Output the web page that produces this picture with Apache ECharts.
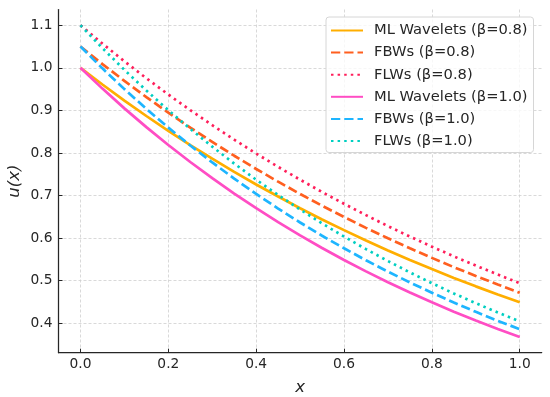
<!DOCTYPE html>
<html><head><meta charset="utf-8">
<script src="https://cdn.jsdelivr.net/npm/echarts@6/dist/echarts.min.js"></script>
<style>html,body{margin:0;padding:0;background:#fff}#c{width:550px;height:397px}</style>
</head><body><div id="c"></div>
<script>
const xs = [0,0.05,0.1,0.15,0.2,0.25,0.3,0.35,0.4,0.45,0.5,0.55,0.6,0.65,0.7,0.75,0.8,0.85,0.9,0.95,1.0];
const mlB08 = [1.0,0.9608,0.9231,0.8869,0.8521,0.8187,0.7866,0.7558,0.7261,0.6977,0.6703,0.6440,0.6188,0.5945,0.5712,0.5488,0.5273,0.5066,0.4868,0.4677,0.4493];
const fbB08 = [1.05,1.0088,0.9693,0.9312,0.8947,0.8596,0.8259,0.7936,0.7624,0.7326,0.7038,0.6762,0.6497,0.6242,0.5998,0.5762,0.5537,0.5319,0.5111,0.4911,0.4718];
const flB08 = [1.1,1.0569,1.0154,0.9756,0.9373,0.9006,0.8653,0.8314,0.7987,0.7675,0.7373,0.7084,0.6807,0.6540,0.6283,0.6037,0.5800,0.5573,0.5355,0.5145,0.4942];
const mlB10 = [1.0,0.9512,0.9048,0.8607,0.8187,0.7788,0.7408,0.7047,0.6703,0.6376,0.6065,0.5769,0.5488,0.5220,0.4966,0.4724,0.4493,0.4274,0.4066,0.3867,0.3679];
const fbB10 = [1.05,0.9988,0.9500,0.9037,0.8596,0.8177,0.7778,0.7399,0.7038,0.6695,0.6368,0.6057,0.5762,0.5481,0.5214,0.4960,0.4718,0.4488,0.4269,0.4060,0.3863];
const flB10 = [1.1,1.0463,0.9953,0.9468,0.9006,0.8567,0.8149,0.7752,0.7373,0.7014,0.6672,0.6346,0.6037,0.5742,0.5463,0.5196,0.4942,0.4701,0.4473,0.4254,0.4047];
const names = ['ML Wavelets (β=0.8)','FBWs (β=0.8)','FLWs (β=0.8)','ML Wavelets (β=1.0)','FBWs (β=1.0)','FLWs (β=1.0)'];
const xTicks = [0,0.2,0.4,0.6,0.8,1.0];
const yTicks = [0.4,0.5,0.6,0.7,0.8,0.9,1.0,1.1];

const FONT = '"DejaVu Sans", sans-serif';
const colors = ['#FFAE00','#FF5F1F','#FF1F5B','#FF4DC4','#1EB5FF','#00CFC1'];
const dashes = ['solid',[9.25,4],[2.5,4.1],'solid',[9.25,4],[2.5,4.1]];
const dataSets = [mlB08, fbB08, flB08, mlB10, fbB10, flB10];

const chart = echarts.init(document.getElementById('c'), null, {renderer:'canvas'});
const gridLine = {show:true, lineStyle:{color:'#cfcfcf', width:0.8, type:[3,2]}};
chart.setOption({
  animation:false,
  textStyle:{fontFamily:FONT},
  grid:{left:58.5, right:8.3, top:9.5, bottom:44.3, containLabel:false, outerBoundsMode:'none'},
  xAxis:{type:'value', min:-0.05, max:1.05,
    axisLine:{show:true, onZero:false, lineStyle:{color:'#262626', width:1.25}},
    axisTick:{show:true, inside:true, length:4, customValues:xTicks, lineStyle:{color:'#262626', width:1}},
    axisLabel:{customValues:xTicks, formatter:v=>v.toFixed(1), fontSize:13.8, color:'#262626', margin:5, fontFamily:FONT},
    splitLine:gridLine,
    name:'x', nameLocation:'middle', nameGap:27, nameMoveOverlap:false,
    nameTextStyle:{fontSize:16.5, fontStyle:'italic', color:'#262626', fontFamily:FONT}
  },
  yAxis:{type:'value', min:0.331, max:1.137,
    axisLine:{show:true, onZero:false, lineStyle:{color:'#262626', width:1.25}},
    axisTick:{show:true, inside:true, length:4, customValues:yTicks, lineStyle:{color:'#262626', width:1}},
    axisLabel:{customValues:yTicks, formatter:v=>v.toFixed(1), fontSize:13.8, color:'#262626', margin:6, fontFamily:FONT},
    splitLine:gridLine,
    name:'u(x)', nameLocation:'middle', nameGap:35, nameMoveOverlap:false,
    nameTextStyle:{fontSize:16.5, fontStyle:'italic', color:'#262626', fontFamily:FONT}
  },
  legend:{orient:'vertical', left:326, top:17, itemWidth:32, itemHeight:14, itemGap:7.1,
    padding:[6,6,4,4], backgroundColor:'rgba(255,255,255,0.8)', borderColor:'#d6d6d6', borderWidth:1, borderRadius:3,
    itemStyle:{opacity:0},
    textStyle:{fontSize:14.7, color:'#262626', fontFamily:FONT, lineHeight:14, padding:[0,0,0,6]},
    data:names.map(n=>({name:n}))
  },
  series: dataSets.map((d,i)=>({
    name:names[i], type:'line', showSymbol:false, symbol:'none', smooth:false,
    data: xs.map((x,j)=>[x,d[j]]),
    lineStyle:{color:colors[i], width:2.7, type:dashes[i], cap:'butt'},
    itemStyle:{color:colors[i]}
  }))
});
</script></body></html>
